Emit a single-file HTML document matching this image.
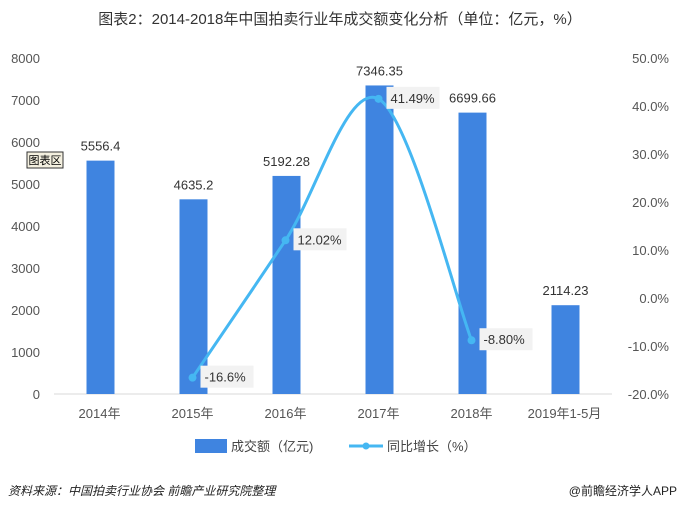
<!DOCTYPE html>
<html><head><meta charset="utf-8"><style>
body{margin:0;background:#fff;width:680px;height:511px;overflow:hidden;font-family:"Liberation Sans","Noto Sans CJK SC",sans-serif}
</style></head><body>
<svg id="c" width="680" height="511" xmlns="http://www.w3.org/2000/svg" font-family="Liberation Sans, Noto Sans CJK SC, sans-serif">
<text x="340" y="24" text-anchor="middle" font-size="15" fill="#333">图表2：2014-2018年中国拍卖行业年成交额变化分析（单位：亿元，%）</text>
<g id="plot"></g>
<text x="8" y="495" font-size="12" fill="#222" font-style="italic">资料来源：中国拍卖行业协会 前瞻产业研究院整理</text>
<text x="677" y="495" text-anchor="end" font-size="12" fill="#222">@前瞻经济学人APP</text>
<g>
<rect x="195" y="439" width="32" height="14" fill="#3f84e0"/>
<text x="231" y="451" font-size="13" fill="#444">成交额（亿元)</text>
<line x1="349" y1="446" x2="383" y2="446" stroke="#45b7f2" stroke-width="3"/>
<circle cx="366" cy="446" r="3.5" fill="#45b7f2"/>
<text x="387" y="451" font-size="13" fill="#444">同比增长（%）</text>
</g>
<g><rect x="27" y="152" width="36" height="16" fill="#f4f0e0" stroke="#333"/><text x="45" y="164" text-anchor="middle" font-size="11" fill="#000">图表区</text></g>
</svg>
<script>
const categories=["2014年","2015年","2016年","2017年","2018年","2019年1-5月"];
const amounts=[5556.4,4635.2,5192.28,7346.35,6699.66,2114.23];
const amountLabels=["5556.4","4635.2","5192.28","7346.35","6699.66","2114.23"];
const growth=[null,-16.6,12.02,41.49,-8.80,null];
const growthLabels=["","-16.6%","12.02%","41.49%","-8.80%",""];
const leftTicks=[0,1000,2000,3000,4000,5000,6000,7000,8000];
const rightTicks=[-20,-10,0,10,20,30,40,50];
const rightTickLabels=["-20.0%","-10.0%","0.0%","10.0%","20.0%","30.0%","40.0%","50.0%"];
const NS="http://www.w3.org/2000/svg";
const g=document.getElementById('plot');
const x0=54,x1=612,yTop=58,yBot=394;
const step=(x1-x0)/categories.length;
const xc=i=>x0+step*(i+0.5);
const yL=v=>yBot-(v/8000)*(yBot-yTop);
const yR=v=>yBot-((v+20)/70)*(yBot-yTop);
function mk(t,a,txt){const e=document.createElementNS(NS,t);for(const k in a)e.setAttribute(k,a[k]);if(txt!==undefined)e.textContent=txt;g.appendChild(e);return e;}
let e=mk('line',{x1:x0,x2:x1,y1:yBot,y2:yBot,stroke:'#d9d9d9'});


leftTicks.forEach(v=>{const t=mk('text',{x:40,y:yL(v)+5,'text-anchor':'end','font-size':13,fill:'#555'},String(v));

});
rightTicks.forEach((v,i)=>{const t=mk('text',{x:669,y:yR(v)+5,'text-anchor':'end','font-size':13,fill:'#555'},rightTickLabels[i]);

});
categories.forEach((c,i)=>{const t=mk('text',{x:xc(i)-1,y:418,'text-anchor':'middle','font-size':13,fill:'#555'},c);

});
amounts.forEach((v,i)=>{const r=mk('rect',{x:xc(i)-14,y:yL(v),width:28,height:yBot-yL(v),fill:'#3f84e0'});


const t=mk('text',{x:xc(i),y:yL(v)-10,'text-anchor':'middle','font-size':13,fill:'#333'},amountLabels[i]);

});
const pts=[];growth.forEach((v,i)=>{if(v!==null)pts.push([xc(i)-1,yR(v)]);});
let d='M'+pts[0][0]+','+pts[0][1];
for(let i=0;i<pts.length-1;i++){const p0=pts[Math.max(i-1,0)],p1=pts[i],p2=pts[i+1],p3=pts[Math.min(i+2,pts.length-1)];
const c1=[p1[0]+(p2[0]-p0[0])/6,p1[1]+(p2[1]-p0[1])/6],c2=[p2[0]-(p3[0]-p1[0])/6,p2[1]-(p3[1]-p1[1])/6];
d+=' C'+c1+' '+c2+' '+p2;}
const ln=mk('path',{d:d,fill:'none',stroke:'#45b7f2','stroke-width':3});


growth.forEach((v,i)=>{if(v===null)return;const cx=xc(i)-1,cy=yR(v);
const m=mk('circle',{cx:cx,cy:cy,r:4,fill:'#45b7f2'});


const w=growthLabels[i].length*7.5+8;
const b=mk('rect',{x:cx+8,y:cy-12,width:w,height:22,fill:'#f2f2f2'});


const t=mk('text',{x:cx+12,y:cy+4,'font-size':13,fill:'#333'},growthLabels[i]);

});
</script>
</body></html>
